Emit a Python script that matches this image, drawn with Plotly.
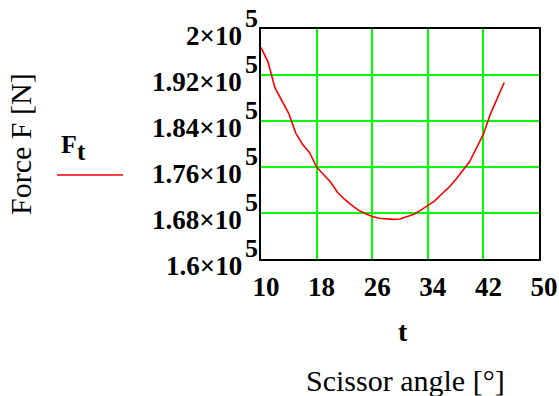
import plotly.graph_objects as go

# Data
angle_deg = [10, 11, 12, 13, 14, 15, 16, 17, 18, 19, 20, 21, 22, 23, 24, 25, 26, 27,
             28, 29, 30, 31, 32, 33, 34, 35, 36, 37, 38, 39, 40, 41, 42, 43, 44, 45]
force_n = [196800, 194300, 189800, 187500, 185300, 181900, 179900, 178500, 176000,
           174700, 173400, 171600, 170400, 169400, 168500, 167900, 167400, 167100,
           166950, 166900, 166950, 167350, 167800, 168500, 169300, 170100, 171300,
           172400, 173800, 175300, 176900, 179300, 181700, 185200, 188100, 190700]
x_ticks = [10, 18, 26, 34, 42, 50]
y_ticks = [160000, 168000, 176000, 184000, 192000, 200000]
y_tick_mantissa = ["1.6", "1.68", "1.76", "1.84", "1.92", "2"]
y_tick_exponent = "5"

SERIF = "Liberation Serif"
W, H = 559, 396
ML, MR, MT, MB = 261, 20, 29, 137

fig = go.Figure()
fig.add_trace(go.Scatter(x=angle_deg, y=force_n, mode="lines",
                         line=dict(color="#ff0000", width=1.6), showlegend=False,
                         hoverinfo="skip"))

fig.update_xaxes(range=[10, 50], tickvals=x_ticks, ticktext=[str(v) for v in x_ticks],
                 showgrid=True, gridcolor="#00ff00", gridwidth=2, zeroline=False,
                 showline=True, mirror=True, linecolor="black", linewidth=2,
                 ticks="", ticklabelshift=5, ticklabelstandoff=3,
                 ticklabeloverflow="allow", automargin=False,
                 tickfont=dict(family=SERIF, size=27, color="black", weight="bold"))
fig.update_yaxes(range=[160000, 200000], tickvals=y_ticks, showticklabels=False,
                 showgrid=True, gridcolor="#00ff00", gridwidth=2, zeroline=False,
                 showline=True, mirror=True, linecolor="black", linewidth=2, ticks="",
                 automargin=False)

ann = []
for v, m in zip(y_ticks, y_tick_mantissa):
    ann.append(dict(xref="paper", yref="y", x=0, y=v, text=m + "×10",
                    xanchor="right", yanchor="middle", xshift=-17, yshift=-7,
                    showarrow=False,
                    font=dict(family=SERIF, size=27, color="black", weight="bold")))
    ann.append(dict(xref="paper", yref="y", x=0, y=v, text=y_tick_exponent,
                    xanchor="left", yanchor="middle", xshift=-18, yshift=11,
                    showarrow=False,
                    font=dict(family=SERIF, size=26, color="black", weight="bold")))

# axis titles
ann.append(dict(xref="paper", yref="paper", x=0.5, y=0, yanchor="middle",
                yshift=-72, xshift=3, text="t", showarrow=False,
                font=dict(family=SERIF, size=28, color="black", weight="bold")))
ann.append(dict(xref="paper", yref="paper", x=0.5, y=0, yanchor="middle",
                yshift=-121, xshift=5, text="Scissor angle [°]", showarrow=False,
                font=dict(family=SERIF, size=30, color="black")))
ann.append(dict(xref="paper", yref="paper", x=0, y=0.5, xanchor="center",
                yanchor="middle", xshift=-241, yshift=0, textangle=-90,
                text="Force F [N]", showarrow=False,
                font=dict(family=SERIF, size=30, color="black")))
# legend label (F with subscript t)
ann.append(dict(xref="paper", yref="paper", x=0, y=1, xanchor="left", yanchor="middle",
                xshift=-201, yshift=-115, text="F", showarrow=False, borderpad=0,
                font=dict(family=SERIF, size=26, color="black", weight="bold")))
ann.append(dict(xref="paper", yref="paper", x=0, y=1, xanchor="left", yanchor="middle",
                xshift=-185, yshift=-122, text="t", showarrow=False, borderpad=0,
                font=dict(family=SERIF, size=25, color="black", weight="bold")))

pw = W - ML - MR
ph = H - MT - MB
fig.add_shape(type="line", xref="paper", yref="paper",
              x0=(57 - ML) / pw, x1=(123 - ML) / pw,
              y0=1 - (175 - MT) / ph, y1=1 - (175 - MT) / ph,
              line=dict(color="#ff0000", width=1.6))

fig.update_layout(width=W, height=H, margin=dict(l=ML, r=MR, t=MT, b=MB),
                  paper_bgcolor="white", plot_bgcolor="white", annotations=ann,
                  hovermode=False)

fig.write_html("out.html", config={"displayModeBar": False},
               post_script="document.body.style.margin='0';"
                           "document.body.style.overflow='hidden';"
                           "document.documentElement.style.overflow='hidden';")
